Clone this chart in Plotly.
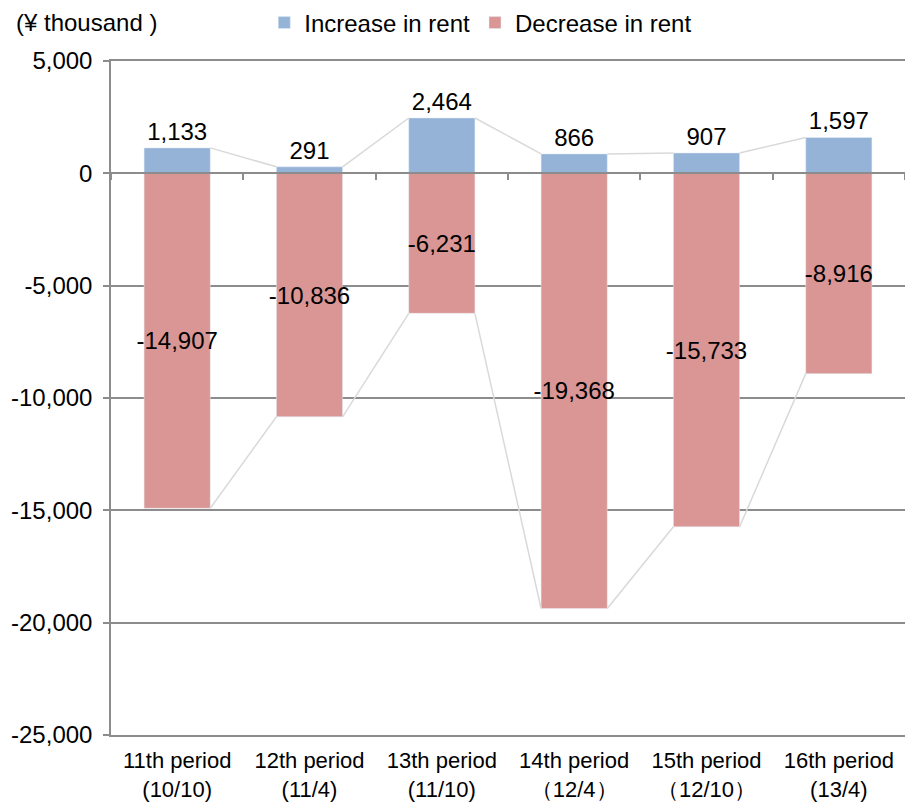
import plotly.graph_objects as go

categories = ["11th period<br>(10/10)", "12th period<br>(11/4)", "13th period<br>(11/10)",
              "14th period<br>（12/4）", "15th period<br>（12/10）", "16th period<br>(13/4)"]
increase = [1133, 291, 2464, 866, 907, 1597]
decrease = [-14907, -10836, -6231, -19368, -15733, -8916]
y_ticks = [5000, 0, -5000, -10000, -15000, -20000, -25000]

BLUE = "#95B3D7"
RED = "#D99694"
CONN = "#D9D9D9"
GRID = "#8C8C8C"
FONT = "Liberation Sans, Arial, sans-serif"
BW = 0.5

fig = go.Figure()
fig.add_trace(go.Bar(
    x=categories, y=increase, name="Increase in rent", marker_color=BLUE,
    width=BW, text=[f"{v:,}" for v in increase], textposition="outside",
    textangle=0, textfont=dict(color="black", size=24, family=FONT),
    cliponaxis=False, constraintext="none"))
fig.add_trace(go.Bar(
    x=categories, y=decrease, name="Decrease in rent", marker_color=RED,
    width=BW, text=[f"{v:,}" for v in decrease], textposition="inside",
    textangle=0, insidetextanchor="middle", constraintext="none",
    textfont=dict(color="black", size=24, family=FONT)))

# connector lines between adjacent bars (series lines)
idx = list(range(len(categories)))
for series in (increase, decrease):
    xs, ys = [], []
    for i in idx[:-1]:
        xs += [i + BW / 2, i + 1 - BW / 2, None]
        ys += [series[i], series[i + 1], None]
    fig.add_trace(go.Scatter(x=xs, y=ys, xaxis="x2", mode="lines",
                             line=dict(color=CONN, width=1.5),
                             showlegend=False, hoverinfo="skip"))

ymin, ymax = min(y_ticks), max(y_ticks)
zero_pos = (0 - ymin) / (ymax - ymin)

fig.update_layout(
    width=905, height=804,
    margin=dict(l=111, r=0, t=61, b=69, autoexpand=False),
    paper_bgcolor="white", plot_bgcolor="white",
    barmode="overlay",
    font=dict(family=FONT, size=22, color="black"),
    showlegend=True,
    legend=dict(orientation="h", xref="container", yref="container",
                x=0.292, y=1 - 23 / 804, xanchor="left", yanchor="middle",
                font=dict(size=24), traceorder="normal", itemwidth=30,
                bgcolor="rgba(0,0,0,0)"),
    xaxis=dict(type="category", showgrid=False, ticks="", showline=True,
               mirror=True, linecolor=GRID, linewidth=1.5, automargin=False,
               tickfont=dict(size=22), ticklabelstandoff=5,
               range=[-0.5, len(categories) - 0.5]),
    xaxis2=dict(overlaying="x", anchor="free", position=zero_pos, side="bottom",
                range=[-0.5, len(categories) - 0.5], showgrid=False,
                tickvals=[i - 0.5 for i in range(len(categories) + 1)],
                showticklabels=False, ticks="outside", ticklen=6,
                tickcolor=GRID, tickwidth=1.5, showline=True, automargin=False,
                linecolor=GRID, linewidth=2, zeroline=False),
    yaxis=dict(range=[ymin, ymax], tickvals=y_ticks,
               ticktext=[f"{v:,}" for v in y_ticks], automargin=False,
               showgrid=True, gridcolor=GRID, gridwidth=1.5,
               zeroline=False, showline=True, linecolor=GRID, linewidth=1.5,
               ticks="outside", ticklen=6, tickcolor=GRID, tickwidth=1.5,
               tickfont=dict(size=24), ticklabelstandoff=6),
    annotations=[dict(text="(¥ thousand )", xref="paper", yref="paper",
                      x=-97 / 794, y=1 + 38 / 674, xanchor="left",
                      yanchor="middle", showarrow=False, font=dict(size=24))],
)

fig.write_html("out.html", config={"displayModeBar": False},
               post_script="document.body.style.margin='0';document.body.style.overflow='hidden';")
